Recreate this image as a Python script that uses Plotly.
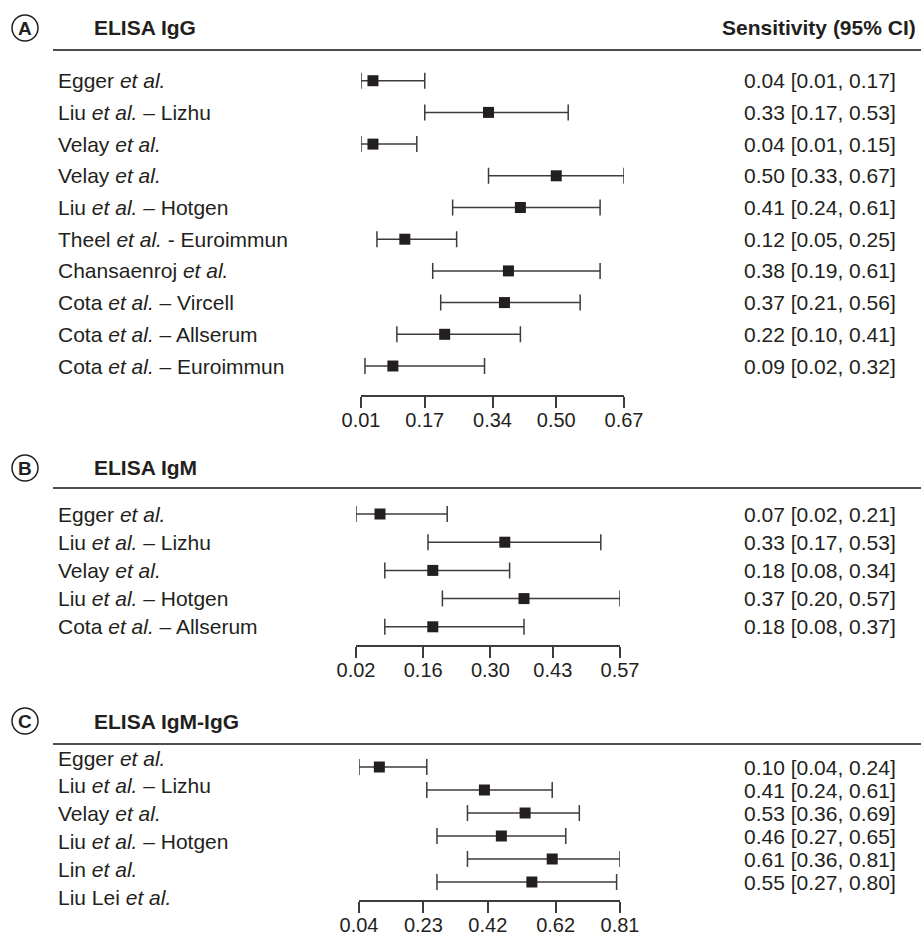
import plotly.graph_objects as go

W, H = 921, 935

# ---------------- data ----------------
A_studies = ["Egger <i>et al.</i>", "Liu <i>et al.</i> – Lizhu", "Velay <i>et al.</i>", "Velay <i>et al.</i>",
             "Liu <i>et al.</i> – Hotgen", "Theel <i>et al.</i> - Euroimmun", "Chansaenroj <i>et al.</i>",
             "Cota <i>et al.</i> – Vircell", "Cota <i>et al.</i> – Allserum", "Cota <i>et al.</i> – Euroimmun"]
A_est = [0.04, 0.33, 0.04, 0.50, 0.41, 0.12, 0.38, 0.37, 0.22, 0.09]
A_lo = [0.01, 0.17, 0.01, 0.33, 0.24, 0.05, 0.19, 0.21, 0.10, 0.02]
A_hi = [0.17, 0.53, 0.15, 0.67, 0.61, 0.25, 0.61, 0.56, 0.41, 0.32]
A_ticks = [0.01, 0.17, 0.34, 0.50, 0.67]
A_ticktext = ["0.01", "0.17", "0.34", "0.50", "0.67"]

B_studies = ["Egger <i>et al.</i>", "Liu <i>et al.</i> – Lizhu", "Velay <i>et al.</i>",
             "Liu <i>et al.</i> – Hotgen", "Cota <i>et al.</i> – Allserum"]
B_est = [0.07, 0.33, 0.18, 0.37, 0.18]
B_lo = [0.02, 0.17, 0.08, 0.20, 0.08]
B_hi = [0.21, 0.53, 0.34, 0.57, 0.37]
B_ticks = [0.02, 0.16, 0.30, 0.43, 0.57]
B_ticktext = ["0.02", "0.16", "0.30", "0.43", "0.57"]

C_studies = ["Egger <i>et al.</i>", "Liu <i>et al.</i> – Lizhu", "Velay <i>et al.</i>",
             "Liu <i>et al.</i> – Hotgen", "Lin <i>et al.</i>", "Liu Lei <i>et al.</i>"]
C_est = [0.10, 0.41, 0.53, 0.46, 0.61, 0.55]
C_lo = [0.04, 0.24, 0.36, 0.27, 0.36, 0.27]
C_hi = [0.24, 0.61, 0.69, 0.65, 0.81, 0.80]
C_ticks = [0.04, 0.23, 0.42, 0.62, 0.81]
C_ticktext = ["0.04", "0.23", "0.42", "0.62", "0.81"]

panel_letters = ["A", "B", "C"]
panel_titles = ["ELISA IgG", "ELISA IgM", "ELISA IgM-IgG"]
col_header = "Sensitivity (95% CI)"

# ---------------- style / layout ----------------
FONT = "Liberation Sans, Arial, Helvetica, sans-serif"
TXT = "#231f20"
LINE = "#3c3c3c"
FS = 21       # body / header text
FS_TICK = 20  # axis tick labels


def px_x(p):
    return p / W


def px_y(p):
    return 1 - p / H


panels = [
    dict(studies=A_studies, est=A_est, lo=A_lo, hi=A_hi, ticks=A_ticks, tt=A_ticktext,
         x0=361, x1=624, top=60, bottom=395, row0=80.7, step=31.7, lrow0=80.7, lstep=31.7,
         head_y=28, rule_y=50),
    dict(studies=B_studies, est=B_est, lo=B_lo, hi=B_hi, ticks=B_ticks, tt=B_ticktext,
         x0=356, x1=620, top=495, bottom=645, row0=514, step=28.2, lrow0=514, lstep=28.2,
         head_y=468, rule_y=488),
    dict(studies=C_studies, est=C_est, lo=C_lo, hi=C_hi, ticks=C_ticks, tt=C_ticktext,
         x0=359, x1=620, top=750, bottom=900, row0=767, step=23.0, lrow0=758, lstep=27.8,
         head_y=721, rule_y=744),
]

fig = go.Figure()
layout = dict(width=W, height=H, autosize=False,
              margin=dict(l=0, r=0, t=0, b=0, pad=0, autoexpand=False),
              paper_bgcolor="white", plot_bgcolor="white", showlegend=False,
              font=dict(family=FONT, size=FS, color=TXT))
annotations = []
shapes = []

for k, p in enumerate(panels):
    xa = "x" if k == 0 else f"x{k+1}"
    ya_n = 2 * k + 1
    ya = "y" if ya_n == 1 else f"y{ya_n}"
    yl_n = 2 * k + 2
    yl = f"y{yl_n}"
    n = len(p["studies"])
    rows = list(range(n))

    fig.add_trace(go.Scatter(
        x=p["est"], y=rows, xaxis=xa, yaxis=ya, mode="markers",
        marker=dict(symbol="square", size=11, color=TXT),
        error_x=dict(type="data", symmetric=False,
                     array=[h - e for h, e in zip(p["hi"], p["est"])],
                     arrayminus=[e - l for e, l in zip(p["est"], p["lo"])],
                     color=LINE, thickness=1.5, width=8),
        cliponaxis=False, hoverinfo="skip"))

    xkey = "xaxis" if k == 0 else f"xaxis{k+1}"
    layout[xkey] = dict(domain=[px_x(p["x0"]), px_x(p["x1"])],
                        range=[p["ticks"][0], p["ticks"][-1]], anchor=ya,
                        tickmode="array", tickvals=p["ticks"], ticktext=p["tt"],
                        ticks="outside", ticklen=11, tickwidth=1.5, tickcolor=LINE,
                        ticklabelstandoff=-5,
                        showline=True, linecolor=LINE, linewidth=1.5, automargin=False,
                        showgrid=False, zeroline=False, fixedrange=True,
                        tickfont=dict(size=FS_TICK, color=TXT, family=FONT))
    dom = [px_y(p["bottom"]), px_y(p["top"])]
    yb = (p["bottom"] - p["row0"]) / p["step"]
    yt = (p["top"] - p["row0"]) / p["step"]
    ykey = "yaxis" if ya_n == 1 else f"yaxis{ya_n}"
    layout[ykey] = dict(domain=dom, range=[yb, yt], visible=False, anchor=xa,
                        automargin=False, fixedrange=True)
    lb = (p["bottom"] - p["lrow0"]) / p["lstep"]
    lt = (p["top"] - p["lrow0"]) / p["lstep"]
    layout[f"yaxis{yl_n}"] = dict(domain=dom, range=[lb, lt], visible=False, anchor=xa,
                                  overlaying=ya, automargin=False, fixedrange=True)
    fig.add_trace(go.Scatter(x=[p["ticks"][0]], y=[0], xaxis=xa, yaxis=yl, mode="markers",
                             marker=dict(size=1, opacity=0), hoverinfo="skip"))

    for i, s in enumerate(p["studies"]):
        annotations.append(dict(x=px_x(57), xref="paper", y=i, yref=yl, text=s,
                                showarrow=False, xanchor="left", yanchor="middle",
                                borderpad=0, font=dict(size=FS, color=TXT, family=FONT)))
        annotations.append(dict(x=px_x(743), xref="paper", y=i, yref=ya,
                                text=f"{p['est'][i]:.2f} [{p['lo'][i]:.2f}, {p['hi'][i]:.2f}]",
                                showarrow=False, xanchor="left", yanchor="middle",
                                borderpad=0, font=dict(size=FS, color=TXT, family=FONT)))

    annotations.append(dict(x=px_x(93), xref="paper", y=px_y(p["head_y"]), yref="paper",
                            text=f"<b>{panel_titles[k]}</b>", showarrow=False,
                            xanchor="left", yanchor="middle", borderpad=0,
                            font=dict(size=FS, color=TXT, family=FONT)))
    annotations.append(dict(x=px_x(25), xref="paper", y=px_y(p["head_y"] + 0.5), yref="paper",
                            text=f"<b>{panel_letters[k]}</b>", showarrow=False,
                            xanchor="center", yanchor="middle", borderpad=0,
                            font=dict(size=19, color=TXT, family=FONT)))
    r = 13
    shapes.append(dict(type="circle", xref="paper", yref="paper",
                       x0=px_x(25 - r), x1=px_x(25 + r),
                       y0=px_y(p["head_y"] + r), y1=px_y(p["head_y"] - r),
                       line=dict(color=TXT, width=1.5)))
    shapes.append(dict(type="line", xref="paper", yref="paper",
                       x0=px_x(53), x1=1, y0=px_y(p["rule_y"]), y1=px_y(p["rule_y"]),
                       line=dict(color="#4d4d4d", width=2)))

annotations.append(dict(x=px_x(917), xref="paper", y=px_y(28), yref="paper",
                        text=f"<b>{col_header}</b>", showarrow=False,
                        xanchor="right", yanchor="middle", borderpad=0,
                        font=dict(size=FS, color=TXT, family=FONT)))

layout["annotations"] = annotations
layout["shapes"] = shapes
fig.update_layout(**layout)
fig.write_html("out.html")
